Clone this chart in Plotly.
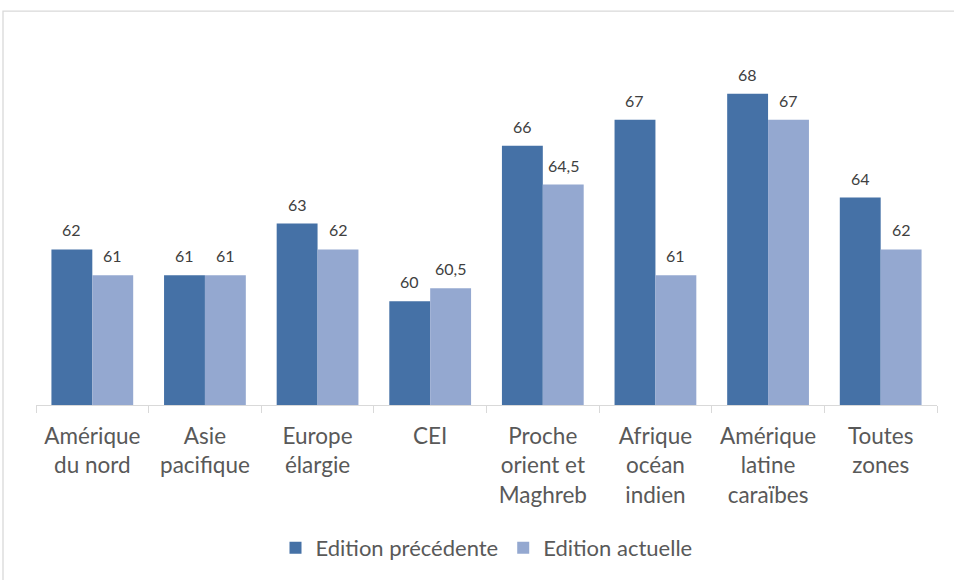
import plotly.graph_objects as go

# Zones and scores for both editions
categories = [
    "Amérique<br>du nord",
    "Asie<br>pacifique",
    "Europe<br>élargie",
    "CEI",
    "Proche<br>orient et<br>Maghreb",
    "Afrique<br>océan<br>indien",
    "Amérique<br>latine<br>caraïbes",
    "Toutes<br>zones",
]
edition_precedente = [62, 61, 63, 60, 66, 67, 68, 64]
edition_actuelle = [61, 61, 62, 60.5, 64.5, 61, 67, 62]
series_names = ["Edition précédente", "Edition actuelle"]

DARK = "#4571A6"
LIGHT = "#94A8D0"
FONT = "Lato, 'Open Sans', sans-serif"


def fmt(v):
    # French decimal notation
    return str(int(v)) if float(v).is_integer() else str(v).replace(".", ",")


fig = go.Figure()
fig.add_trace(go.Bar(x=categories, y=edition_precedente, name=series_names[0],
                     marker=dict(color=DARK, line=dict(width=0))))
fig.add_trace(go.Bar(x=categories, y=edition_actuelle, name=series_names[1],
                     marker=dict(color=LIGHT, line=dict(width=0))))

# Value labels above each bar
annotations = []
for vals, shift in ((edition_precedente, -20.5), (edition_actuelle, 20.5)):
    for c, v in zip(categories, vals):
        annotations.append(dict(
            x=c, y=v, xref="x", yref="y", text=fmt(v), showarrow=False,
            xshift=shift, yshift=8, yanchor="bottom",
            font=dict(family=FONT, size=16, color="#404040"),
        ))

# Light frame around the chart
shapes = [dict(type="rect", xref="paper", yref="paper",
               x0=(3 - 36) / 901, x1=(970 - 36) / 901,
               y0=(406 - 600) / 364, y1=(406 - 11) / 364,
               line=dict(color="#D9D9D9", width=1.3), fillcolor="rgba(0,0,0,0)",
               layer="below")]

fig.update_layout(
    width=954, height=580,
    margin=dict(l=36, r=17, t=42, b=174),
    plot_bgcolor="white", paper_bgcolor="white",
    barmode="group", bargap=0.274, bargroupgap=0,
    font=dict(family=FONT, color="#595959"),
    annotations=annotations,
    shapes=shapes,
    showlegend=True,
    legend=dict(orientation="h", x=0.5, xanchor="center", y=-0.39, yanchor="middle",
                font=dict(family=FONT, size=22, color="#595959"),
                itemwidth=30, traceorder="normal"),
    xaxis=dict(
        showline=True, linecolor="#D9D9D9", linewidth=1.3,
        ticks="outside", tickson="boundaries", tickcolor="#D9D9D9", ticklen=7, tickwidth=1.3,
        tickfont=dict(family=FONT, size=22.5, color="#595959"),
        ticklabelstandoff=11,
        showgrid=False, fixedrange=True,
    ),
    yaxis=dict(range=[56, 70], visible=False, showgrid=False, fixedrange=True),
)

fig.write_html("out.html")
